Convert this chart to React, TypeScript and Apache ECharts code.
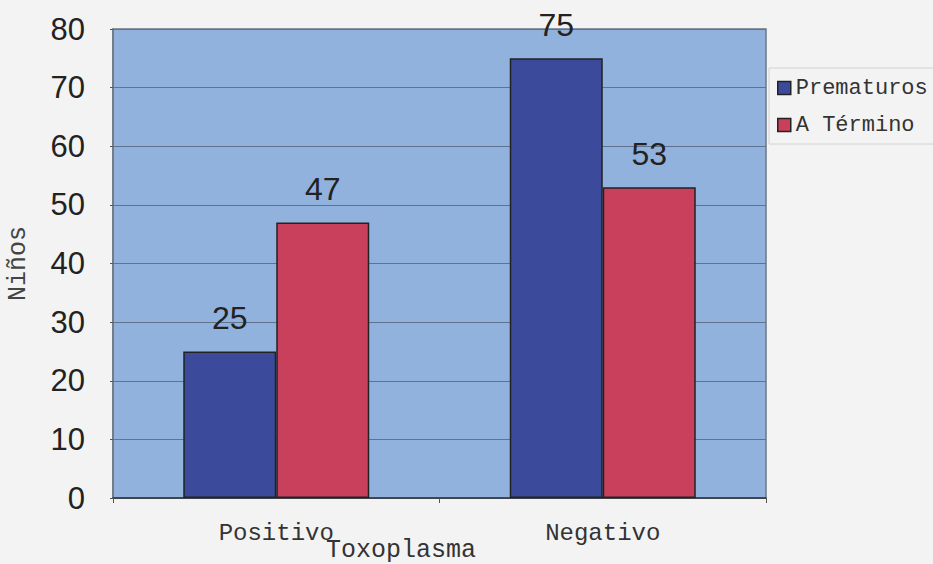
import React, { useEffect, useRef } from "react";
import * as echarts from "echarts";

const categories = ["Positivo", "Negativo"];
const prematuros = [25, 75];
const aTermino = [47, 53];
const seriesNames = ["Prematuros", "A Término"];
const yTicks = { min: 0, max: 80, interval: 10 };

const SANS = "'Liberation Sans', Arial, sans-serif";
const MONO = "'Courier New', 'Liberation Mono', monospace";

export default function App() {
  const ref = useRef<HTMLDivElement>(null);

  useEffect(() => {
    if (!ref.current) return;
    const chart = echarts.init(ref.current, null, { renderer: "svg" });
    const label = {
      show: true,
      position: "top",
      distance: 17,
      fontFamily: SANS,
      fontSize: 32,
      color: "#222",
    };
    chart.setOption({
      animation: false,
      backgroundColor: "#f3f3f3",
      grid: {
        left: 113,
        right: 167,
        top: 29,
        bottom: 66,
        outerBoundsMode: "none",
        containLabel: false,
        show: true,
        backgroundColor: "#92b2de",
        borderColor: "#6f7785",
        borderWidth: 1.5,
      },
      legend: {
        orient: "vertical",
        left: 769,
        top: 68,
        padding: [9, 8, 8, 8],
        itemGap: 15,
        itemWidth: 13,
        itemHeight: 13,
        icon: "rect",
        borderColor: "#d2d2d2",
        borderWidth: 1,
        backgroundColor: "#f3f3f3",
        textStyle: { fontFamily: MONO, fontSize: 22, color: "#333" },
        itemStyle: { borderColor: "#222", borderWidth: 1.5 },
        data: seriesNames,
      },
      xAxis: {
        type: "category",
        data: categories,
        name: "Toxoplasma",
        nameLocation: "middle",
        nameGap: 52,
        nameMoveOverlap: false,
        nameTextStyle: {
          fontFamily: MONO,
          fontSize: 25,
          color: "#333",
          verticalAlign: "middle",
          padding: [0, 77, 0, 0],
        },
        axisLine: { lineStyle: { color: "#333", width: 1.5 } },
        axisTick: { show: true, length: 5, lineStyle: { color: "#555" } },
        axisLabel: {
          fontFamily: MONO,
          fontSize: 24,
          color: "#333",
          margin: 23,
        },
      },
      yAxis: {
        type: "value",
        min: yTicks.min,
        max: yTicks.max,
        interval: yTicks.interval,
        name: "Niños",
        nameLocation: "middle",
        nameGap: 82,
        nameMoveOverlap: false,
        nameRotate: 90,
        nameTextStyle: { fontFamily: MONO, fontSize: 25, color: "#444" },
        axisLine: { show: true, lineStyle: { color: "#6f7785", width: 1.5 } },
        axisTick: { show: true, length: 3, lineStyle: { color: "#555" } },
        axisLabel: {
          fontFamily: SANS,
          fontSize: 31,
          color: "#222",
          margin: 28,
        },
        splitLine: { lineStyle: { color: "#60728e", width: 1 } },
      },
      series: [
        {
          name: seriesNames[0],
          type: "bar",
          data: prematuros,
          barWidth: 93,
          barGap: "0%",
          itemStyle: { color: "#3b4a9b", borderColor: "#222", borderWidth: 1.5 },
          label,
        },
        {
          name: seriesNames[1],
          type: "bar",
          data: aTermino,
          barWidth: 93,
          barGap: "0%",
          itemStyle: { color: "#c8405b", borderColor: "#222", borderWidth: 1.5 },
          label,
        },
      ],
    });
    return () => chart.dispose();
  }, []);

  return (
    <div
      ref={ref}
      style={{ position: "absolute", left: 0, top: 0, width: 933, height: 564 }}
    />
  );
}
